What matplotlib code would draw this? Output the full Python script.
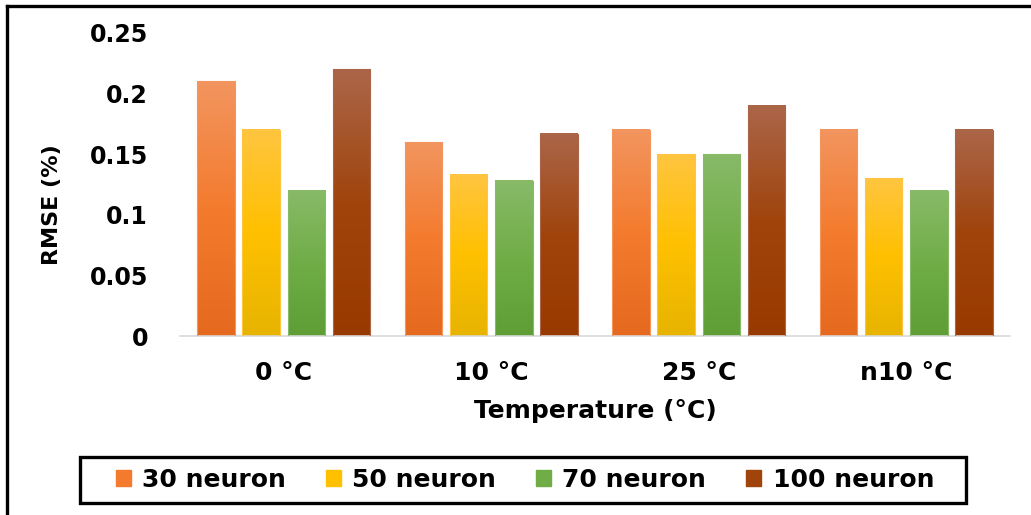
import numpy as np
import matplotlib.pyplot as plt
from matplotlib.colors import LinearSegmentedColormap
from matplotlib.lines import Line2D
from matplotlib.patches import Rectangle, Patch

temps = ['0 °C', '10 °C', '25 °C', 'n10 °C']
series = ['30 neuron', '50 neuron', '70 neuron', '100 neuron']
rmse_30 = [0.21, 0.16, 0.17, 0.17]
rmse_50 = [0.17, 0.133, 0.15, 0.13]
rmse_70 = [0.12, 0.128, 0.15, 0.12]
rmse_100 = [0.22, 0.167, 0.19, 0.17]
values = [rmse_30, rmse_50, rmse_70, rmse_100]

# bottom, middle, top colour of each bar's gradient
shades = [
    ('#e5691f', '#f47b2e', '#f2955f'),
    ('#e7b400', '#ffc000', '#ffc540'),
    ('#5e9e35', '#70ad47', '#88ba68'),
    ('#983a00', '#a0440c', '#ab6649'),
]

plt.rcParams['font.family'] = ['DejaVu Sans']
plt.rcParams['font.weight'] = 'bold'

W, H = 1031, 515
fig = plt.figure(figsize=(W / 100, H / 100), dpi=100, facecolor='white')
ax = fig.add_axes([180 / W, 1 - 336 / H, 830 / W, (336 - 33) / H])

x = np.arange(len(temps))
width = 0.18
step = 0.218
grad = np.linspace(0, 1, 256).reshape(-1, 1)

for i, (name, vals, cols) in enumerate(zip(series, values, shades)):
    cmap = LinearSegmentedColormap.from_list(name, list(cols))
    pos = x + (i - 1.5) * step
    bars = ax.bar(pos, vals, width, facecolor='none',
                  edgecolor=cols[2], linewidth=0.8, zorder=3)
    for b in bars:
        x0, h = b.get_x(), b.get_height()
        ax.imshow(grad, cmap=cmap, origin='lower', aspect='auto',
                  extent=[x0, x0 + b.get_width(), 0, h], zorder=2)

ax.set_xlim(-0.5, 3.5)
ax.set_ylim(0, 0.25)
ax.set_aspect('auto')
ax.set_yticks([0, 0.05, 0.1, 0.15, 0.2, 0.25])
ax.set_yticklabels(['0', '0.05', '0.1', '0.15', '0.2', '0.25'])
ax.set_xticks(x)
ax.set_xticklabels(temps)
ax.tick_params(axis='y', length=0, pad=23, labelsize=17)
ax.tick_params(axis='x', length=0, pad=18, labelsize=18)
for s in ('top', 'right', 'left'):
    ax.spines[s].set_visible(False)
ax.spines['bottom'].set_color('#d9d9d9')
ax.spines['bottom'].set_linewidth(1.2)

ax.set_xlabel('Temperature (°C)', fontsize=18, fontweight='bold', labelpad=10)
ax.set_ylabel('RMSE (%)', fontsize=16, fontweight='bold')
ax.yaxis.set_label_coords((62 - 180) / 830, (336 - 205) / 303)

handles = [Patch(facecolor=c[1], edgecolor=c[1]) for c in shades]
leg = fig.legend(handles, series, loc='center', ncol=4,
                 bbox_to_anchor=(525 / W, 1 - 480 / H),
                 prop={'size': 18, 'weight': 'bold'},
                 frameon=False,
                 handlelength=0.6, handleheight=0.6, handletextpad=0.45,
                 columnspacing=1.6)

# legend box, wider than the entries
fig.patches.append(Rectangle((80 / W, 1 - 503 / H), 886 / W, 46 / H,
                             transform=fig.transFigure, fill=False,
                             edgecolor='black', linewidth=2.4))

# outer frame: only the top and left edges are inside the image
top = 1 - 6 / H
left = 7 / W
fig.lines.append(Line2D([left, 1.05], [top, top], transform=fig.transFigure,
                        color='black', linewidth=2.4,
                        solid_capstyle='projecting'))
fig.lines.append(Line2D([left, left], [top, -0.05], transform=fig.transFigure,
                        color='black', linewidth=2.4,
                        solid_capstyle='projecting'))

fig.savefig('out.png', dpi=100)
